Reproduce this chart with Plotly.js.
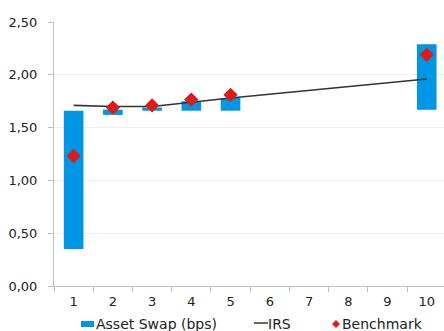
<!DOCTYPE html>
<html>
<head>
<meta charset="utf-8">
<script src="https://cdn.plot.ly/plotly-3.0.1.min.js"></script>
<style>
  html, body { margin: 0; padding: 0; background: #ffffff; }
  #chart { width: 444px; height: 331px; }
</style>
</head>
<body>
<div id="chart"></div>
<script>
const categories = ["1", "2", "3", "4", "5", "6", "7", "8", "9", "10"];
const swapBase  = [0.35, 1.62, 1.66, 1.66, 1.66, null, null, null, null, 1.67];
const swapTop   = [1.66, 1.67, 1.69, 1.75, 1.78, null, null, null, null, 2.29];
const irs       = [1.71, 1.70, 1.70, 1.74, 1.78, null, null, null, null, 1.96];
const benchmark = [1.23, 1.69, 1.71, 1.765, 1.81, null, null, null, null, 2.19];
const yTickVals = [0, 0.5, 1, 1.5, 2, 2.5];
const yTickText = ["0,00", "0,50", "1,00", "1,50", "2,00", "2,50"];
const seriesNames = ["Asset Swap (bps)", "IRS", "Benchmark"];
const seriesColors = ["#0096E6", "#333333", "#DD1C1A"];

const font = "DejaVu Sans, Verdana, sans-serif";

const traces = [
  {
    type: "bar",
    name: seriesNames[0],
    x: categories,
    base: swapBase,
    y: swapTop.map((t, i) => (t === null ? null : t - swapBase[i])),
    width: 0.5,
    marker: { color: seriesColors[0] },
    hoverinfo: "skip"
  },
  {
    type: "scatter",
    mode: "lines",
    name: seriesNames[1],
    x: categories,
    y: irs,
    connectgaps: true,
    line: { color: seriesColors[1], width: 1.6 },
    hoverinfo: "skip"
  },
  {
    type: "scatter",
    mode: "markers",
    name: seriesNames[2],
    x: categories,
    y: benchmark,
    marker: { symbol: "diamond", size: 11, color: seriesColors[2] },
    hoverinfo: "skip"
  }
];

// custom legend below the plot (paper coordinates; plot area 390 x 264 px)
const W = 390, H = 264;
const px = v => (v - 54) / W;
const py = v => (286 - v) / H;
const legY = 324;
const shapes = [
  { type: "rect", xref: "paper", yref: "paper",
    x0: px(81), x1: px(94), y0: py(321), y1: py(327),
    fillcolor: seriesColors[0], line: { width: 0 } },
  { type: "line", xref: "paper", yref: "paper",
    x0: px(254), x1: px(268), y0: py(legY - 1), y1: py(legY - 1),
    line: { color: seriesColors[1], width: 1.5 } },
  { type: "path", xref: "paper", yref: "paper",
    path: `M ${px(336)} ${py(legY - 4)} L ${px(340)} ${py(legY)} L ${px(336)} ${py(legY + 4)} L ${px(332)} ${py(legY)} Z`,
    fillcolor: seriesColors[2], line: { width: 0 } }
];
const legendFont = { family: font, size: 14, color: "#222222" };
const annotations = [
  { x: px(94), text: seriesNames[0] },
  { x: px(266), text: seriesNames[1] },
  { x: px(340), text: seriesNames[2] }
].map(a => ({
  xref: "paper", yref: "paper", x: a.x, y: py(legY),
  xanchor: "left", yanchor: "middle", showarrow: false,
  text: a.text, font: legendFont
}));

const layout = {
  width: 444,
  height: 331,
  margin: { l: 54, r: 0, t: 22, b: 45 },
  paper_bgcolor: "#ffffff",
  plot_bgcolor: "#ffffff",
  font: { family: font, size: 13, color: "#222222" },
  showlegend: false,
  shapes: shapes,
  annotations: annotations,
  xaxis: {
    type: "category",
    range: [-0.5, 9.44],
    tickson: "boundaries",
    ticks: "outside",
    ticklen: 5,
    tickcolor: "#bfbfbf",
    showline: true,
    linecolor: "#bfbfbf",
    linewidth: 1,
    showgrid: false,
    zeroline: false,
    ticklabelstandoff: 3,
    fixedrange: true
  },
  yaxis: {
    range: [0, 2.5],
    tickvals: yTickVals,
    ticktext: yTickText,
    ticks: "outside",
    ticklen: 5,
    tickcolor: "#bfbfbf",
    showline: true,
    linecolor: "#bfbfbf",
    linewidth: 1,
    showgrid: true,
    gridcolor: "#eeeeee",
    zeroline: false,
    ticklabelstandoff: 8,
    fixedrange: true
  },
  barmode: "overlay"
};

Plotly.newPlot("chart", traces, layout, { displayModeBar: false, staticPlot: true });
</script>
</body>
</html>
